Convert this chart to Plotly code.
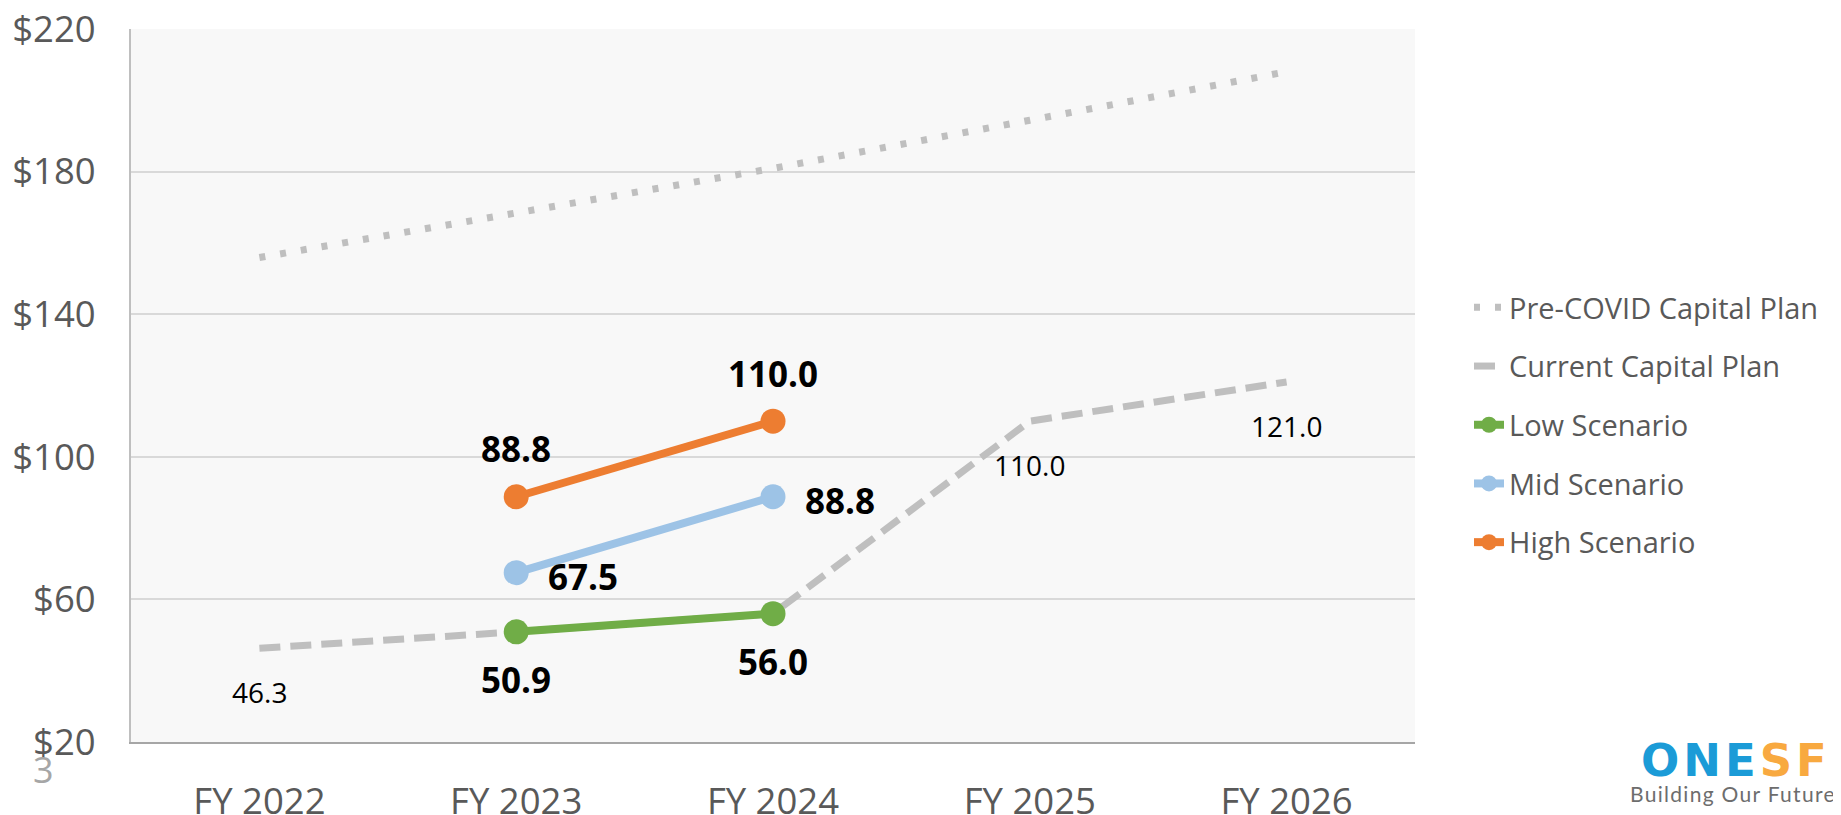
import plotly.graph_objects as go

# ---- data ----
categories = ["FY 2022", "FY 2023", "FY 2024", "FY 2025", "FY 2026"]
pre_covid = [155.9, 168.3, 180.9, 194.4, 208.0]
current_plan = [46.3, 50.9, 56.0, 110.0, 121.0]
low_scenario = [None, 50.9, 56.0, None, None]
mid_scenario = [None, 67.5, 88.8, None, None]
high_scenario = [None, 88.8, 110.0, None, None]
y_tick_values = [20, 60, 100, 140, 180, 220]
current_labeled_idx = [0, 3, 4]

FONT = "Open Sans"
GRAY_TXT = "#595959"

# page geometry: the figure div sits 8px inside the page (default body margin)
OFF = 8
W, H = 1841, 815
PLOT_LEFT, PLOT_RIGHT, PLOT_TOP, PLOT_BOTTOM = 131, 1415, 29, 742  # page pixels
L = PLOT_LEFT - OFF
T = PLOT_TOP - OFF
R = W - (PLOT_RIGHT - OFF)
B = H - (PLOT_BOTTOM - OFF)
PW, PH = W - L - R, H - T - B


def px_to_paper(px, py):
    fx, fy = px - OFF, py - OFF
    return (fx - L) / PW, (H - B - fy) / PH


fig = go.Figure()

fig.add_trace(go.Scatter(
    x=categories, y=pre_covid, name="Pre-COVID Capital Plan", mode="lines",
    line=dict(color="#BFBFBF", width=7, dash="6px,15px"), legendgroup="a"))
fig.add_trace(go.Scatter(
    x=categories, y=current_plan, name="Current Capital Plan", mode="lines",
    line=dict(color="#BFBFBF", width=7, dash="21px,10px"), legendgroup="b"))
fig.add_trace(go.Scatter(
    x=categories, y=low_scenario, name="Low Scenario", mode="lines+markers",
    line=dict(color="#70AD47", width=8), marker=dict(size=25, color="#70AD47"),
    legendgroup="c"))
fig.add_trace(go.Scatter(
    x=categories, y=mid_scenario, name="Mid Scenario", mode="lines+markers",
    line=dict(color="#9DC3E6", width=8), marker=dict(size=25, color="#9DC3E6"),
    legendgroup="d"))
fig.add_trace(go.Scatter(
    x=categories, y=high_scenario, name="High Scenario", mode="lines+markers",
    line=dict(color="#ED7D31", width=8), marker=dict(size=25, color="#ED7D31"),
    legendgroup="e"))

annotations = []
for i in current_labeled_idx:
    annotations.append(dict(x=categories[i], y=current_plan[i], xref="x", yref="y",
                            text=f"{current_plan[i]:.1f}", showarrow=False, yshift=-44,
                            font=dict(family=FONT, size=28, color="#000000")))
for i, v in enumerate(low_scenario):
    if v is not None:
        annotations.append(dict(x=categories[i], y=v, xref="x", yref="y",
                                text=f"<b>{v:.1f}</b>", showarrow=False, yshift=-48,
                                font=dict(family=FONT, size=35, color="#000000")))
for i, v in enumerate(mid_scenario):
    if v is not None:
        annotations.append(dict(x=categories[i], y=v, xref="x", yref="y",
                                text=f"<b>{v:.1f}</b>", showarrow=False, xshift=67, yshift=-4,
                                font=dict(family=FONT, size=35, color="#000000")))
for i, v in enumerate(high_scenario):
    if v is not None:
        annotations.append(dict(x=categories[i], y=v, xref="x", yref="y",
                                text=f"<b>{v:.1f}</b>", showarrow=False, yshift=48,
                                font=dict(family=FONT, size=35, color="#000000")))

# slide number
sx, sy = px_to_paper(43, 769)
annotations.append(dict(x=sx, y=sy, xref="paper", yref="paper", text="3", showarrow=False,
                        xanchor="center", yanchor="middle",
                        font=dict(family=FONT, size=36, color="#A6A6A6")))
# logo
lx, ly = px_to_paper(1736, 760)
annotations.append(dict(xref="paper", yref="paper", x=lx, y=ly, showarrow=False,
                        xanchor="center", yanchor="middle",
                        text="<b><span style='letter-spacing:4px'>"
                             "<span style='color:#1B9BD7'>ONE</span>"
                             "<span style='color:#F8A940'>SF</span></span></b>",
                        font=dict(family="DejaVu Sans", size=45)))
bx, by = px_to_paper(1733, 793)
annotations.append(dict(xref="paper", yref="paper", x=bx, y=by, showarrow=False,
                        xanchor="center", yanchor="middle",
                        text="<span style='letter-spacing:1.3px'>Building Our Future</span>",
                        font=dict(family="Lato", size=21, color="#6D6D6D")))

gx, gy = px_to_paper(1469, 282)
fig.update_layout(
    width=W, height=H,
    margin=dict(l=L, r=R, t=T, b=B, autoexpand=False),
    paper_bgcolor="#FFFFFF", plot_bgcolor="#F8F8F8",
    font=dict(family=FONT, color=GRAY_TXT),
    showlegend=True,
    legend=dict(x=gx, y=gy, xanchor="left", yanchor="top",
                font=dict(family=FONT, size=29, color=GRAY_TXT),
                tracegroupgap=18, bgcolor="rgba(0,0,0,0)"),
    annotations=annotations,
    hovermode=False,
)

fig.update_xaxes(type="category", range=[-0.5, 4.5], showgrid=False,
                 showline=True, linecolor="#A6A6A6", linewidth=2,
                 ticks="", ticklabelstandoff=26, automargin=False,
                 ticklabeloverflow="allow",
                 tickfont=dict(family=FONT, size=36.5, color=GRAY_TXT))
fig.update_yaxes(range=[20, 220], tickvals=y_tick_values,
                 ticktext=[f"${v}" for v in y_tick_values],
                 showgrid=True, gridcolor="#D9D9D9", gridwidth=2,
                 showline=True, linecolor="#BFBFBF", linewidth=2,
                 zeroline=False, ticks="", ticklabelstandoff=26, automargin=False,
                 ticklabeloverflow="allow",
                 tickfont=dict(family=FONT, size=36.5, color=GRAY_TXT))

fig.write_html("out.html")
